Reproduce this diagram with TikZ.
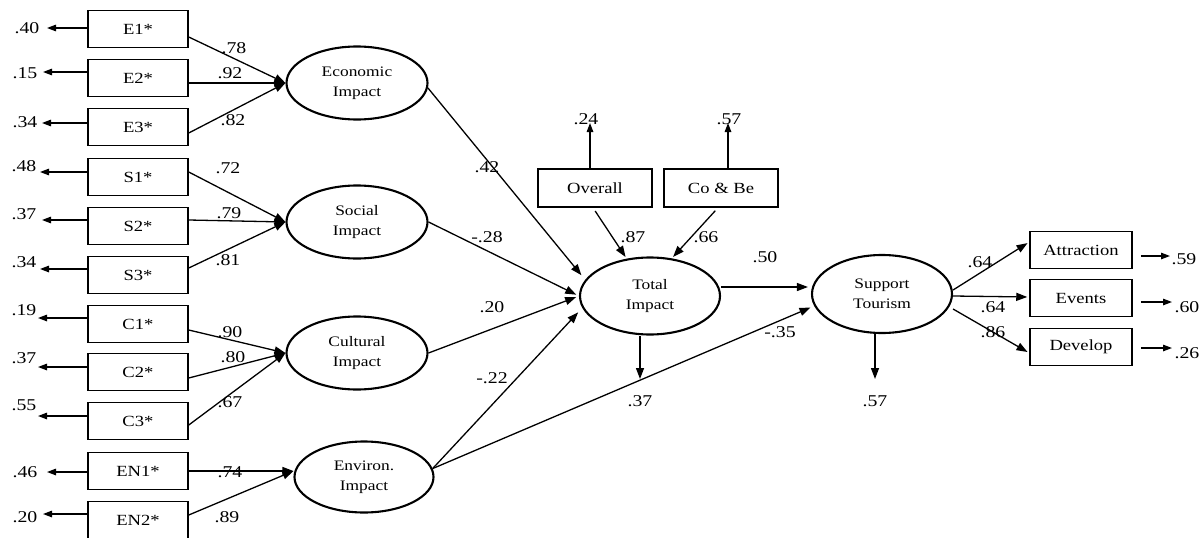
\documentclass[tikz,border=0pt]{standalone}
\usepackage{fontspec}
\setmainfont[FakeStretch=1.2]{Liberation Serif}
\usetikzlibrary{shapes.geometric,arrows.meta}
\begin{document}
\begin{tikzpicture}[x=1pt,y=-1pt,
 box/.style={draw,line width=1.5pt,minimum width=100pt,minimum height=37pt,inner sep=0pt,font=\fontsize{15.5}{17}\selectfont},
 lat/.style={draw,ellipse,line width=2.1pt,minimum width=141pt,minimum height=73pt,inner sep=0pt,align=center,font=\fontsize{14.5}{19.5}\selectfont},
 num/.style={inner sep=0pt,font=\fontsize{16.5}{18}\selectfont},
 arr/.style={line width=1.3pt,-{Triangle[length=11pt,width=8pt]}},
 res/.style={line width=1.3pt,-{Triangle[length=9pt,width=6.5pt]}},
]
\useasboundingbox (0,0) rectangle (1202,538);

% indicator boxes (left)
\node[box] (E1) at (138,29) {E1*};
\node[box] (E2) at (138,78) {E2*};
\node[box] (E3) at (138,127) {E3*};
\node[box] (S1) at (138,177) {S1*};
\node[box] (S2) at (138,226) {S2*};
\node[box] (S3) at (138,275) {S3*};
\node[box] (C1) at (138,324) {C1*};
\node[box] (C2) at (138,372) {C2*};
\node[box] (C3) at (138,421) {C3*};
\node[box] (EN1) at (138,471) {EN1*};
\node[box] (EN2) at (138,520) {EN2*};

% latent variables
\node[lat] (Econ) at (357,83) {Economic\\Impact};
\node[lat] (Social) at (357,222) {Social\\Impact};
\node[lat] (Cult) at (357,353) {Cultural\\Impact};
\node[lat,minimum width=139pt,minimum height=71pt] (Env) at (364,477) {Environ.\\Impact};
\node[lat,minimum width=140pt,minimum height=77pt] (Total) at (650,296) {Total\\Impact};
\node[lat,minimum width=140pt,minimum height=78pt] (Supp) at (882,294) {Support\\Tourism};

% other boxes
\node[box,minimum width=114pt,minimum height=38pt] (Over) at (595,188) {Overall};
\node[box,minimum width=114pt,minimum height=38pt] (CoBe) at (721,188) {Co \& Be};
\node[box,minimum width=102pt] (Attr) at (1081,250) {Attraction};
\node[box,minimum width=102pt] (Even) at (1081,298) {Events};
\node[box,minimum width=102pt] (Deve) at (1081,347) {Develop};

% left residual arrows
\coordinate (rE1) at (47,28);
\coordinate (rE2) at (43,72);
\coordinate (rE3) at (42,123);
\coordinate (rS1) at (40,172);
\coordinate (rS2) at (42,220);
\coordinate (rS3) at (40,269);
\coordinate (rC1) at (38,318);
\coordinate (rC2) at (38,367);
\coordinate (rC3) at (38,416);
\coordinate (rEN1) at (47,472);
\coordinate (rEN2) at (43,514);
\draw[res] ([yshift=1pt]E1.west) -- (rE1);
\draw[res] ([yshift=6pt]E2.west) -- (rE2);
\draw[res] ([yshift=4pt]E3.west) -- (rE3);
\draw[res] ([yshift=5pt]S1.west) -- (rS1);
\draw[res] ([yshift=6pt]S2.west) -- (rS2);
\draw[res] ([yshift=6pt]S3.west) -- (rS3);
\draw[res] ([yshift=6pt]C1.west) -- (rC1);
\draw[res] ([yshift=5pt]C2.west) -- (rC2);
\draw[res] ([yshift=5pt]C3.west) -- (rC3);
\draw[res] ([yshift=-1pt]EN1.west) -- (rEN1);
\draw[res] ([yshift=6pt]EN2.west) -- (rEN2);

\node[num] at (27,28) {.40};
\node[num] at (25,73) {.15};
\node[num] at (25,122) {.34};
\node[num] at (24,166) {.48};
\node[num] at (24,214) {.37};
\node[num] at (24,262) {.34};
\node[num] at (24,310) {.19};
\node[num] at (24,358) {.37};
\node[num] at (24,405) {.55};
\node[num] at (25,472) {.46};
\node[num] at (25,517) {.20};

% loadings
\draw[arr] ([yshift=-8pt]E1.east) -- (Econ.west);
\draw[arr] ([yshift=-5pt]E2.east) -- (Econ.west);
\draw[arr] ([yshift=-6pt]E3.east) -- (Econ.west);
\draw[arr] ([yshift=5pt]S1.east) -- (Social.west);
\draw[arr] ([yshift=6pt]S2.east) -- (Social.west);
\draw[arr] ([yshift=7pt]S3.east) -- (Social.west);
\draw[arr] ([yshift=-6pt]C1.east) -- (Cult.west);
\draw[arr] ([yshift=-6pt]C2.east) -- (Cult.west);
\draw[arr] ([yshift=-4pt]C3.east) -- (Cult.west);
\draw[arr] (EN1.east) -- ([yshift=6pt]Env.west);
\draw[arr] ([yshift=5pt]EN2.east) -- ([yshift=6pt]Env.west);

\node[num] at (234,48) {.78};
\node[num] at (230,73) {.92};
\node[num] at (233,120) {.82};
\node[num] at (228,168) {.72};
\node[num] at (229,213) {.79};
\node[num] at (228,260) {.81};
\node[num] at (230,332) {.90};
\node[num] at (233,357) {.80};
\node[num] at (230,402) {.67};
\node[num] at (230,472) {.74};
\node[num] at (227,517) {.89};

% structural paths
\draw[arr,shorten >=6pt] (Econ.-4) -- (Total.166);
\draw[arr,shorten >=3pt] (Social.east) -- (Total.west);
\draw[arr,shorten >=3pt] (Cult.east) -- (Total.west);
\draw[arr,shorten >=6pt] (Env.7) -- (Total.190);
\draw[arr,shorten >=4pt] (Env.7) -- (Supp.190);
\draw[arr,shorten >=3pt] ([yshift=9pt]Total.east) -- ([yshift=7pt]Supp.west);

\node[num] at (487,167) {.42};
\node[num] at (487,237) {-.28};
\node[num] at (492,307) {.20};
\node[num] at (492,378) {-.22};
\node[num] at (780,332) {-.35};
\node[num] at (765,257) {.50};

% Total Impact indicators
\draw[arr,shorten <=4pt,shorten >=2pt] ([xshift=-2pt]Over.south) -- (Total.122);
\draw[arr,shorten <=4pt,shorten >=2pt] ([xshift=-3pt]CoBe.south) -- (Total.60);
\node[num] at (633,237) {.87};
\node[num] at (706,237) {.66};
\coordinate (rOv) at (590,123);
\coordinate (rCo) at (728,123);
\draw[res] ([xshift=-5pt]Over.north) -- (rOv);
\draw[res] ([xshift=7pt]CoBe.north) -- (rCo);
\node[num] at (586,119) {.24};
\node[num] at (729,119) {.57};

% disturbances
\coordinate (dT) at (640,379);
\coordinate (dS) at (875,379);
\draw[arr] ([xshift=-10pt]Total.south) -- (dT);
\draw[arr] ([xshift=-7pt]Supp.south) -- (dS);
\node[num] at (640,401) {.37};
\node[num] at (875,401) {.57};

% Support Tourism indicators
\draw[arr,shorten >=2pt] ([yshift=4pt]Supp.east) -- ([yshift=8pt]Attr.west);
\draw[arr,shorten >=2pt] ([yshift=-2pt]Supp.east) -- ([yshift=1pt]Even.west);
\draw[arr,shorten >=2pt] ([yshift=-15pt]Supp.east) -- ([yshift=-6pt]Deve.west);
\node[num] at (980,262) {.64};
\node[num] at (993,307) {.64};
\node[num] at (993,332) {.86};

\coordinate (rA) at (1170,256);
\coordinate (rEv) at (1172,302);
\coordinate (rD) at (1172,348);
\draw[res] ([xshift=8pt,yshift=-6pt]Attr.east) -- (rA);
\draw[res] ([xshift=8pt,yshift=-4pt]Even.east) -- (rEv);
\draw[res] ([xshift=8pt,yshift=-1pt]Deve.east) -- (rD);
\node[num] at (1184,259) {.59};
\node[num] at (1187,307) {.60};
\node[num] at (1187,353) {.26};
\end{tikzpicture}
\end{document}
